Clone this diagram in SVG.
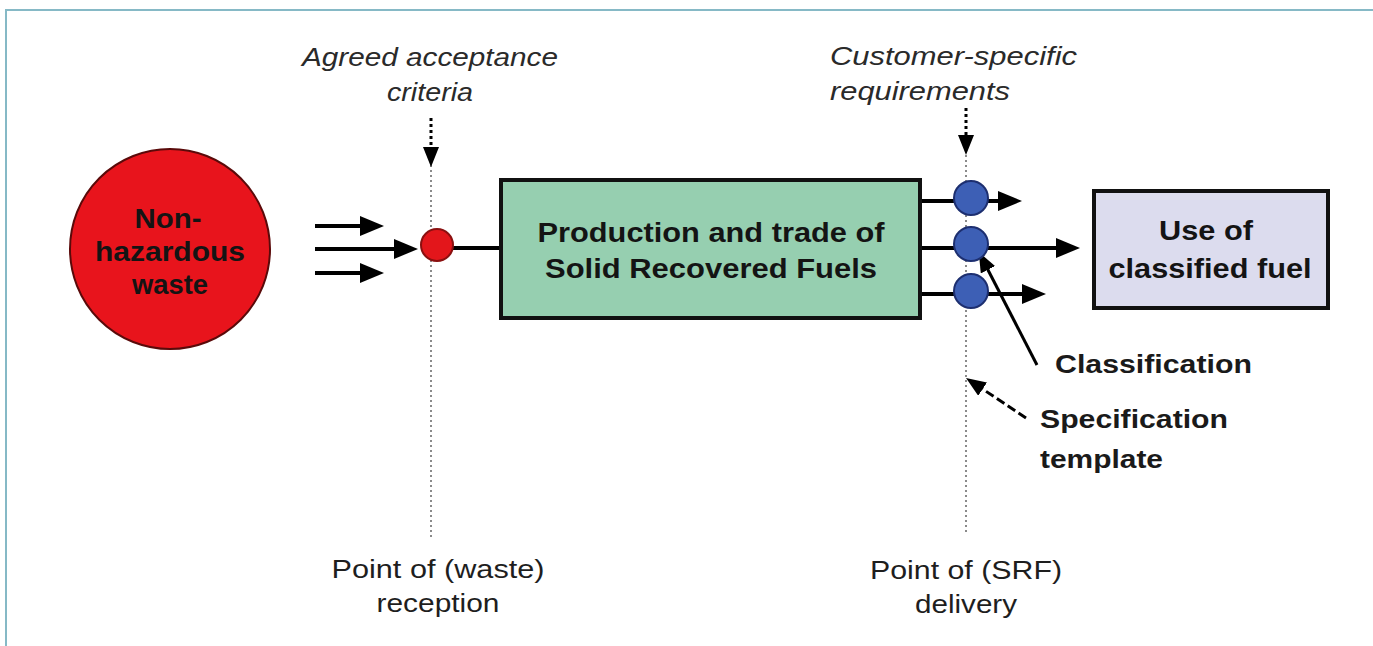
<svg xmlns="http://www.w3.org/2000/svg" width="1373" height="646" viewBox="0 0 1373 646">
<style>
.b{font-family:"Liberation Sans",Arial,sans-serif;font-weight:bold;font-size:27px;fill:#141414}
.l{font-family:"Liberation Sans",Arial,sans-serif;font-weight:bold;font-size:26px;fill:#1a1a1a}
.i{font-family:"Liberation Sans",Arial,sans-serif;font-style:italic;font-size:26px;fill:#2a2a2a}
.r{font-family:"Liberation Sans",Arial,sans-serif;font-size:26px;fill:#1e1e1e}
.m{text-anchor:middle}
.ln{stroke:#000;stroke-width:4;fill:none}
.dot{stroke:#8a8a8a;stroke-width:2;stroke-dasharray:2 3;fill:none}
.blue{fill:#3d5fb5;stroke:#1d2f70;stroke-width:2}
</style>
<defs>
<marker id="ah" viewBox="0 0 24 20" refX="2" refY="10" markerWidth="24" markerHeight="20" markerUnits="userSpaceOnUse" orient="auto"><path d="M0,0 L24,10 L0,20 z" fill="#000"/></marker>
<marker id="ah2" viewBox="0 0 20 16" refX="2" refY="8" markerWidth="20" markerHeight="16" markerUnits="userSpaceOnUse" orient="auto"><path d="M0,0 L20,8 L0,16 z" fill="#000"/></marker>
</defs>
<rect width="1373" height="646" fill="#fff"/>
<path d="M6,646 V10 H1373" fill="none" stroke="#86b9c6" stroke-width="2"/>

<g id="guides">
<line class="dot" x1="431" y1="165" x2="431" y2="540"/>
<line class="dot" x1="966" y1="155" x2="966" y2="535"/>
</g>

<g id="connectors">
<line class="ln" x1="315" y1="226" x2="362" y2="226" marker-end="url(#ah)"/>
<line class="ln" x1="315" y1="249" x2="396" y2="249" marker-end="url(#ah)"/>
<line class="ln" x1="315" y1="273" x2="362" y2="273" marker-end="url(#ah)"/>
<line class="ln" x1="450" y1="248" x2="500" y2="248"/>
<line class="ln" x1="920" y1="201" x2="1000" y2="201" marker-end="url(#ah)"/>
<line class="ln" x1="920" y1="248" x2="1058" y2="248" marker-end="url(#ah)"/>
<line class="ln" x1="920" y1="294" x2="1024" y2="294" marker-end="url(#ah)"/>
<line x1="431" y1="118" x2="431" y2="149" stroke="#000" stroke-width="3" stroke-dasharray="3 3" marker-end="url(#ah2)"/>
<line x1="966" y1="108" x2="966" y2="137" stroke="#000" stroke-width="3" stroke-dasharray="3 3" marker-end="url(#ah2)"/>
<line x1="1037" y1="365" x2="987" y2="268" stroke="#000" stroke-width="3" marker-end="url(#ah2)"/>
<line x1="1026" y1="418" x2="981" y2="388" stroke="#000" stroke-width="3" stroke-dasharray="9 4" marker-end="url(#ah2)"/>
</g>

<g id="waste">
<circle cx="170" cy="249" r="100" fill="#e8141c" stroke="#5a0a0a" stroke-width="2"/>
<text class="b m" x="168" y="228" textLength="67" lengthAdjust="spacingAndGlyphs">Non-</text>
<text class="b m" x="170" y="261" textLength="150" lengthAdjust="spacingAndGlyphs">hazardous</text>
<text class="b m" x="170" y="294" textLength="76" lengthAdjust="spacingAndGlyphs">waste</text>
</g>

<g id="reception-point">
<circle cx="437" cy="245" r="16" fill="#e3161b" stroke="#8a1010" stroke-width="2"/>
</g>

<g id="production">
<rect x="501" y="180" width="419" height="138" fill="#96cfb0" stroke="#111" stroke-width="4"/>
<text class="b m" x="711" y="242" textLength="347" lengthAdjust="spacingAndGlyphs">Production and trade of</text>
<text class="b m" x="711" y="278" textLength="332" lengthAdjust="spacingAndGlyphs">Solid Recovered Fuels</text>
</g>

<g id="delivery-points">
<circle class="blue" cx="971" cy="198" r="17"/>
<circle class="blue" cx="971" cy="244" r="17"/>
<circle class="blue" cx="971" cy="291" r="17"/>
</g>

<g id="use">
<rect x="1094" y="191" width="234" height="117" fill="#dcdcee" stroke="#111" stroke-width="4"/>
<text class="b m" x="1206" y="240" textLength="94" lengthAdjust="spacingAndGlyphs">Use of</text>
<text class="b m" x="1210" y="278" textLength="203" lengthAdjust="spacingAndGlyphs">classified fuel</text>
</g>

<g id="labels">
<text class="i m" x="430" y="66" textLength="256" lengthAdjust="spacingAndGlyphs">Agreed acceptance</text>
<text class="i m" x="430" y="101" textLength="86" lengthAdjust="spacingAndGlyphs">criteria</text>
<text class="i" x="830" y="65" textLength="247" lengthAdjust="spacingAndGlyphs">Customer-specific</text>
<text class="i" x="830" y="100" textLength="180" lengthAdjust="spacingAndGlyphs">requirements</text>
<text class="r m" x="438" y="578" textLength="213" lengthAdjust="spacingAndGlyphs">Point of (waste)</text>
<text class="r m" x="438" y="612" textLength="123" lengthAdjust="spacingAndGlyphs">reception</text>
<text class="r m" x="966" y="579" textLength="192" lengthAdjust="spacingAndGlyphs">Point of (SRF)</text>
<text class="r m" x="966" y="613" textLength="102" lengthAdjust="spacingAndGlyphs">delivery</text>
<text class="l" x="1055" y="373" textLength="197" lengthAdjust="spacingAndGlyphs">Classification</text>
<text class="l" x="1040" y="428" textLength="188" lengthAdjust="spacingAndGlyphs">Specification</text>
<text class="l" x="1040" y="468" textLength="123" lengthAdjust="spacingAndGlyphs">template</text>
</g>
</svg>
